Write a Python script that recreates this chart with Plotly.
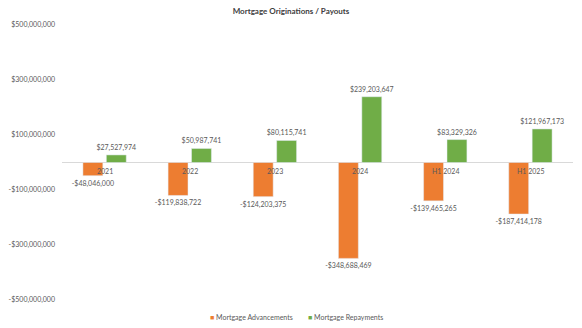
import plotly.graph_objects as go

categories = ["2021", "2022", "2023", "2024", "H1 2024", "H1 2025"]
advancements = [-48046000, -119838722, -124203375, -348688469, -139465265, -187414178]
repayments = [27527974, 50987741, 80115741, 239203647, 83329326, 121967173]
tick_vals = [500000000, 300000000, 100000000, -100000000, -300000000, -500000000]
tick_text = ["$500,000,000", "$300,000,000", "$100,000,000",
             "-$100,000,000", "-$300,000,000", "-$500,000,000"]
series_names = ["Mortgage Advancements", "Mortgage Repayments"]
series_colors = ["#ED7D31", "#70AD47"]

def money(v):
    return ("-$" if v < 0 else "$") + f"{abs(v):,}"

FONT = "Lato"
GREY = "#595959"
FS = 7

fig = go.Figure()
for name, vals, col in zip(series_names, [advancements, repayments], series_colors):
    fig.add_trace(go.Bar(
        name=name, x=categories, y=vals, marker_color=col,
        text=[money(v) for v in vals], textposition="outside",
        constraintext="none", cliponaxis=False, showlegend=False,
        textfont=dict(family=FONT, size=FS, color=GREY),
    ))

for i, c in enumerate(categories):
    fig.add_annotation(x=i, y=0, xref="x", yref="y", text=c, showarrow=False,
                       yanchor="top", yshift=-2,
                       font=dict(family=FONT, size=FS, color=GREY))

# legend
legend_x = [0.285, 0.478]
for name, col, lx in zip(series_names, series_colors, legend_x):
    fig.add_annotation(x=lx, y=-0.06, xref="paper", yref="paper", xanchor="left",
                       yanchor="middle", showarrow=False,
                       text=f"<span style='color:{col}'>■</span> {name}",
                       font=dict(family=FONT, size=FS, color=GREY))

fig.update_layout(
    width=582, height=328,
    margin=dict(l=57, r=9, t=25, b=28),
    paper_bgcolor="white", plot_bgcolor="white",
    barmode="group", bargap=0.45, bargroupgap=0.15,
    title=dict(text="<b>Mortgage Originations / Payouts</b>", x=0.5, xanchor="center",
               y=1 - 11 / 328, yanchor="middle",
               font=dict(family=FONT, size=8, color="#404040")),
    showlegend=False,
    font=dict(family=FONT, size=FS, color=GREY),
)
fig.update_xaxes(type="category", range=[-0.5, 5.5], showticklabels=False, showline=False,
                 showgrid=False, zeroline=False)
fig.update_yaxes(range=[-500000000, 500000000], tickvals=tick_vals, ticktext=tick_text,
                 showgrid=False, zeroline=True, zerolinecolor="#D9D9D9", zerolinewidth=1,
                 tickfont=dict(family=FONT, size=FS, color=GREY), ticks="", ticklabelstandoff=6)

fig.write_html("out.html")
